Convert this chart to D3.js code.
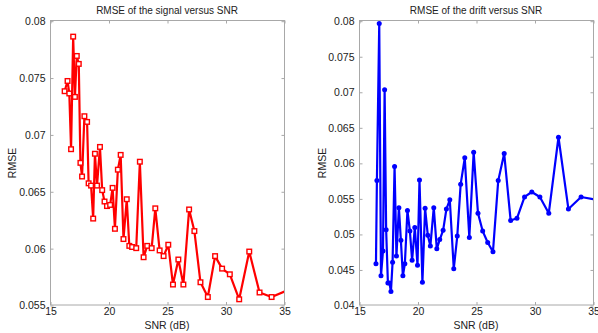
<!DOCTYPE html>
<html>
<head>
<meta charset="utf-8">
<script src="https://cdn.jsdelivr.net/npm/d3@7"></script>
<style>
  body { margin: 0; background: #fff; }
  svg text { font-family: "Liberation Sans", Arial, sans-serif; fill: #222; }
</style>
</head>
<body>
<div id="chart"></div>
<script>
// values
const signalSnr = [16.25, 16.5, 16.65, 16.8, 16.98, 17.13, 17.29, 17.46, 17.6, 17.74, 17.94, 18.17, 18.3, 18.51,
    18.69, 18.84, 19.02, 19.27, 19.46, 19.66, 19.87, 20.14, 20.35, 20.55, 20.8, 21.04, 21.28, 21.56, 21.78, 22.02,
    22.37, 22.68, 23.0, 23.31, 23.69, 24.0, 24.37, 24.71, 25.11, 25.51, 25.97, 26.4, 26.89, 27.34, 27.86, 28.49,
    29.11, 29.71, 30.37, 31.17, 32.03, 32.91, 33.94, 35.3];
const signalRmse = [0.0738, 0.0747, 0.0736, 0.0687, 0.0786, 0.0733, 0.0769, 0.0762, 0.0675, 0.0663, 0.0716, 0.0711,
    0.0657, 0.0655, 0.0626, 0.0683, 0.0655, 0.0689, 0.0651, 0.0641, 0.0637, 0.0638, 0.0653, 0.0617, 0.0669, 0.0682,
    0.0608, 0.0643, 0.0602, 0.0601, 0.0600, 0.0676, 0.0592, 0.0602, 0.0600, 0.0635, 0.0598, 0.0593, 0.0603, 0.0568,
    0.0590, 0.0568, 0.0634, 0.0615, 0.0570, 0.0557, 0.0593, 0.0582, 0.0577, 0.0555, 0.0597, 0.0561, 0.0557, 0.0563];

const driftSnr = [16.45, 16.53, 16.73, 16.88, 17.05, 17.19, 17.32, 17.47, 17.6, 17.73, 17.87, 18.04, 18.2, 18.41,
    18.58, 18.75, 18.92, 19.14, 19.35, 19.54, 19.77, 20.0, 20.17, 20.42, 20.65, 20.88, 21.1, 21.39, 21.65, 21.9,
    22.19, 22.47, 22.76, 23.1, 23.4, 23.69, 24.04, 24.43, 24.8, 25.17, 25.57, 26.0, 26.45, 26.9, 27.41, 27.96,
    28.5, 29.15, 29.77, 30.46, 31.22, 32.05, 32.9, 33.98, 35.3];
const driftRmse = [0.0458, 0.0575, 0.0796, 0.0441, 0.0476, 0.0703, 0.0506, 0.0431, 0.0431, 0.0419, 0.0460, 0.0595,
    0.0469, 0.0537, 0.0491, 0.0441, 0.0458, 0.0533, 0.0504, 0.0463, 0.0509, 0.0456, 0.0576, 0.0432, 0.0536, 0.0498,
    0.0483, 0.0537, 0.0479, 0.0492, 0.0505, 0.0535, 0.0548, 0.0451, 0.0497, 0.0570, 0.0607, 0.0495, 0.0615, 0.0529,
    0.0504, 0.0488, 0.0475, 0.0575, 0.0613, 0.0519, 0.0522, 0.0552, 0.0559, 0.0552, 0.0529, 0.0636, 0.0535, 0.0552,
    0.0548];

const snrTicks = [15, 20, 25, 30, 35];
const signalTicks = [0.055, 0.06, 0.065, 0.07, 0.075, 0.08];
const driftTicks = [0.04, 0.045, 0.05, 0.055, 0.06, 0.065, 0.07, 0.075, 0.08];

const W = 598, H = 333;

const svg = d3.select('#chart').append('svg')
    .attr('width', W)
    .attr('height', H);

// matlab style labels: no trailing zeros
const fmtTick = d => String(+d.toFixed(3));

function drawPanel(cfg) {
    const x = d3.scaleLinear().domain([15, 35]).range([cfg.left, cfg.right]);
    const y = d3.scaleLinear().domain(cfg.yDomain).range([305, 20.7]);

    const g = svg.append('g');

    g.append('clipPath').attr('id', cfg.id + '-clip')
        .append('rect')
        .attr('x', cfg.left).attr('y', 20.7)
        .attr('width', cfg.right - cfg.left).attr('height', 305 - 20.7);

    // box
    g.append('rect')
        .attr('x', cfg.left + 0.5).attr('y', 20.5)
        .attr('width', cfg.right - cfg.left).attr('height', 305 - 20.5)
        .attr('fill', 'none')
        .attr('stroke', '#a8a8a8')
        .attr('stroke-width', 1);

    const tickLen = 3;
    const tickStroke = '#a8a8a8';

    // inward ticks on all sides
    const xAxisBottom = d3.axisBottom(x).tickValues(snrTicks).tickSize(-tickLen).tickFormat(d3.format('d')).tickPadding(3);
    const xAxisTop = d3.axisTop(x).tickValues(snrTicks).tickSize(-tickLen).tickFormat('');
    const yAxisLeft = d3.axisLeft(y).tickValues(cfg.yTicks).tickSize(-tickLen).tickFormat(fmtTick).tickPadding(5);
    const yAxisRight = d3.axisRight(y).tickValues(cfg.yTicks).tickSize(-tickLen).tickFormat('');

    const axes = [
        [xAxisBottom, `translate(0.5,305)`],
        [xAxisTop, `translate(0.5,20.5)`],
        [yAxisLeft, `translate(${cfg.left + 0.5},0.5)`],
        [yAxisRight, `translate(${cfg.right + 0.5},0.5)`]
    ];
    axes.forEach(([ax, tr]) => {
        const a = g.append('g').attr('transform', tr).call(ax);
        a.select('.domain').remove();
        a.selectAll('.tick line').attr('stroke', tickStroke);
        a.selectAll('.tick text')
            .style('font-size', '10.5px')
            .style('font-family', '"Liberation Sans", Arial, sans-serif')
            .attr('fill', '#222');
    });

    // titles
    g.append('text')
        .attr('x', (cfg.left + cfg.right) / 2)
        .attr('y', 14)
        .attr('text-anchor', 'middle')
        .style('font-size', '10px')
        .text(cfg.title);

    g.append('text')
        .attr('x', (cfg.left + cfg.right) / 2)
        .attr('y', 328.5)
        .attr('text-anchor', 'middle')
        .style('font-size', '10.5px')
        .text('SNR (dB)');

    g.append('text')
        .attr('transform', `translate(${cfg.yLabelX},163) rotate(-90)`)
        .attr('text-anchor', 'middle')
        .style('font-size', '10.5px')
        .text('RMSE');

    const pts = cfg.xs.map((v, i) => ({snr: v, rmse: cfg.ys[i]}));

    const plot = g.append('g').attr('clip-path', `url(#${cfg.id}-clip)`);

    plot.append('path')
        .datum(pts)
        .attr('fill', 'none')
        .attr('stroke', cfg.color)
        .attr('stroke-width', 2.2)
        .attr('stroke-linejoin', 'round')
        .attr('d', d3.line().x(d => x(d.snr)).y(d => y(d.rmse)));

    if (cfg.marker === 'square') {
        plot.selectAll('.mk')
            .data(pts)
            .join('rect')
            .attr('class', 'mk')
            .attr('x', d => x(d.snr) - 2.3)
            .attr('y', d => y(d.rmse) - 2.3)
            .attr('width', 4.6)
            .attr('height', 4.6)
            .attr('fill', '#fff')
            .attr('stroke', cfg.color)
            .attr('stroke-width', 1.4);
    } else {
        plot.selectAll('.mk')
            .data(pts)
            .join('circle')
            .attr('class', 'mk')
            .attr('cx', d => x(d.snr))
            .attr('cy', d => y(d.rmse))
            .attr('r', 2.5)
            .attr('fill', cfg.color);
    }
}

drawPanel({
    id: 'signal', left: 50, right: 284, yLabelX: 16,
    yDomain: [0.055, 0.08], yTicks: signalTicks,
    xs: signalSnr, ys: signalRmse,
    color: '#ff0000', marker: 'square',
    title: 'RMSE of the signal versus SNR'
});

drawPanel({
    id: 'drift', left: 359, right: 593, yLabelX: 326,
    yDomain: [0.04, 0.08], yTicks: driftTicks,
    xs: driftSnr, ys: driftRmse,
    color: '#0000ff', marker: 'circle',
    title: 'RMSE of the drift versus SNR'
});
</script>
</body>
</html>
